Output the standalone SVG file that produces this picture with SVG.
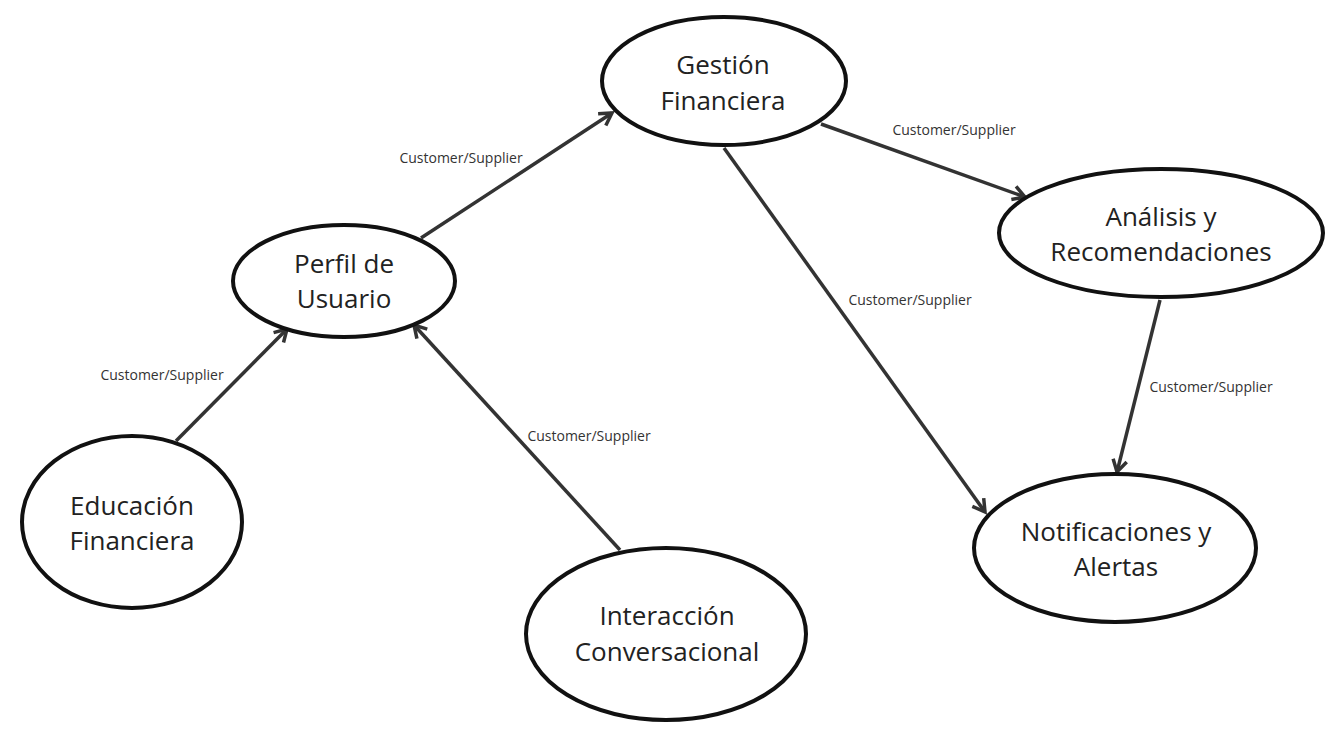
<svg xmlns="http://www.w3.org/2000/svg" width="1333" height="749" viewBox="0 0 1333 749">
<style>
.node ellipse{fill:#fff;stroke:#111;stroke-width:4}
.node text{font-family:"Open Sans","Noto Sans",sans-serif;font-size:26px;fill:#222;text-anchor:middle}
.edge line{stroke:#333;stroke-width:3.5;marker-end:url(#arr)}
.lbl{font-family:"Open Sans","Noto Sans",sans-serif;font-size:14px;fill:#333;text-anchor:middle}
</style>
<defs>
<marker id="arr" markerUnits="userSpaceOnUse" markerWidth="20" markerHeight="20" viewBox="0 0 20 20" refX="15" refY="10" orient="auto">
<path d="M3,3 L15,10 L3,17" fill="none" stroke="#333" stroke-width="3.5" stroke-linejoin="miter"/>
</marker>
</defs>
<rect width="1333" height="749" fill="#fff"/>
<g id="connectors" class="edge">
<line x1="421" y1="238" x2="612" y2="113"/>
<line x1="821" y1="124" x2="1025" y2="197"/>
<line x1="724" y1="148" x2="985" y2="512"/>
<line x1="1160" y1="300" x2="1117" y2="472"/>
<line x1="176" y1="441" x2="287" y2="329"/>
<line x1="620" y1="550" x2="414" y2="325"/>
<text class="lbl" x="461" y="163">Customer/Supplier</text>
<text class="lbl" x="954" y="135">Customer/Supplier</text>
<text class="lbl" x="910" y="305">Customer/Supplier</text>
<text class="lbl" x="1211" y="392">Customer/Supplier</text>
<text class="lbl" x="162" y="380">Customer/Supplier</text>
<text class="lbl" x="589" y="441">Customer/Supplier</text>
</g>
<g id="gestion" class="node">
<ellipse cx="724" cy="81" rx="122" ry="64"/>
<text x="723" y="74">Gestión</text>
<text x="723" y="110">Financiera</text>
</g>
<g id="perfil" class="node">
<ellipse cx="344" cy="281" rx="111" ry="56"/>
<text x="344" y="273">Perfil de</text>
<text x="344" y="308">Usuario</text>
</g>
<g id="analisis" class="node">
<ellipse cx="1161" cy="233" rx="162" ry="64"/>
<text x="1161" y="226">Análisis y</text>
<text x="1161" y="261">Recomendaciones</text>
</g>
<g id="notificaciones" class="node">
<ellipse cx="1115" cy="548" rx="141" ry="74"/>
<text x="1116" y="541">Notificaciones y</text>
<text x="1116" y="576">Alertas</text>
</g>
<g id="educacion" class="node">
<ellipse cx="132" cy="522" rx="110" ry="86"/>
<text x="132" y="515">Educación</text>
<text x="132" y="550">Financiera</text>
</g>
<g id="interaccion" class="node">
<ellipse cx="666" cy="634" rx="140" ry="86"/>
<text x="667" y="625">Interacción</text>
<text x="667" y="661">Conversacional</text>
</g>
</svg>
